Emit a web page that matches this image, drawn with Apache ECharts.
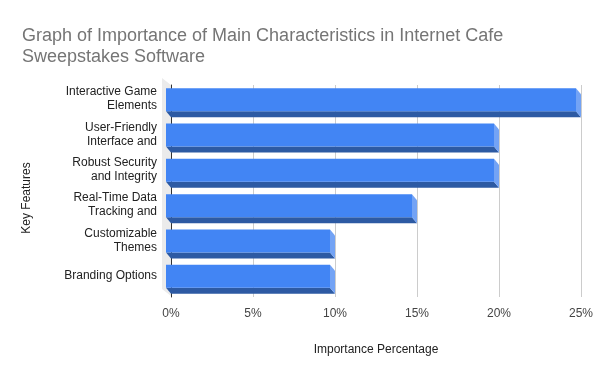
<!DOCTYPE html>
<html><head><meta charset="utf-8">
<script src="https://cdn.jsdelivr.net/npm/echarts@6/dist/echarts.min.js"></script>
<style>html,body{margin:0;padding:0;background:#fff}#c{width:600px;height:371px}</style>
</head><body><div id="c"></div>
<script>
const categories = ["Interactive Game\nElements", "User-Friendly\nInterface and", "Robust Security\nand Integrity", "Real-Time Data\nTracking and", "Customizable\nThemes", "Branding Options"];
const values = [25, 20, 20, 15, 10, 10];
const xTicks = [0, 5, 10, 15, 20, 25];

const FONT = "'Liberation Sans', Arial, sans-serif";
const chart = echarts.init(document.getElementById('c'), null, {renderer: 'canvas'});
const DX = 5, DY = 6, H = 23;
chart.setOption({
  animation: false,
  title: {
    text: 'Graph of Importance of Main Characteristics in Internet Cafe\nSweepstakes Software',
    left: 17, top: 21,
    textStyle: {fontFamily: FONT, fontSize: 18, fontWeight: 'normal', color: '#757575', lineHeight: 21}
  },
  grid: [
    {left: 171, right: 19, top: 85, bottom: 74},
    {left: 171, right: 19, top: 81.5, bottom: 77.5}
  ],
  xAxis: [{
    type: 'value', min: 0, max: 25, interval: 5, gridIndex: 0,
    axisLine: {show: false}, axisTick: {show: false},
    splitLine: {lineStyle: {color: '#cccccc'}},
    axisLabel: {formatter: v => v + '%', fontFamily: FONT, fontSize: 12, color: '#444', margin: 11},
    name: 'Importance Percentage', nameLocation: 'middle', nameGap: 47,
    nameTextStyle: {fontFamily: FONT, fontSize: 12, color: '#222'}
  }, {
    type: 'value', min: 0, max: 25, gridIndex: 1, show: false
  }],
  yAxis: [{
    type: 'category', data: categories, inverse: true, gridIndex: 0,
    axisLine: {show: true, lineStyle: {color: '#333', width: 1}},
    axisTick: {show: false}, axisLabel: {show: false}
  }, {
    type: 'category', data: categories, inverse: true, gridIndex: 1,
    axisLine: {show: false}, axisTick: {show: false}, splitLine: {show: false},
    axisLabel: {fontFamily: FONT, fontSize: 12, color: '#222', margin: 14, lineHeight: 14, align: 'right'}
  }],
  graphic: [
    {type: 'polygon', z: 0, shape: {points: [[162, 78], [171, 85], [171, 296], [162, 289]]}, style: {fill: '#ebebeb'}},
    {type: 'text', x: 27, y: 198, rotation: Math.PI / 2,
     style: {text: 'Key Features', font: '12px ' + FONT, fill: '#222', textAlign: 'center', textVerticalAlign: 'middle'}}
  ],
  series: [{
    type: 'custom',
    xAxisIndex: 0, yAxisIndex: 0,
    data: values.map((v, i) => [v, i]),
    encode: {x: 0, y: 1},
    renderItem: function (params, api) {
      const v = api.value(0), i = api.value(1);
      const p0 = api.coord([0, i]);
      const p1 = api.coord([v, i]);
      const x0 = p0[0], x1 = p1[0], cy = p0[1];
      const ft = cy - 14.5, fb = ft + H;
      return {
        type: 'group',
        children: [
          {type: 'polygon', shape: {points: [[x0 - DX, fb], [x1 - DX, fb], [x1, fb + DY], [x0, fb + DY]]}, style: {fill: '#2d5aa3'}},
          {type: 'polygon', shape: {points: [[x1 - DX, ft], [x1, ft + DY], [x1, fb + DY], [x1 - DX, fb]]}, style: {fill: '#73a3f5'}},
          {type: 'rect', shape: {x: x0 - DX, y: ft, width: x1 - x0, height: H}, style: {fill: '#4285f4'}}
        ]
      };
    }
  }]
});
</script></body></html>
